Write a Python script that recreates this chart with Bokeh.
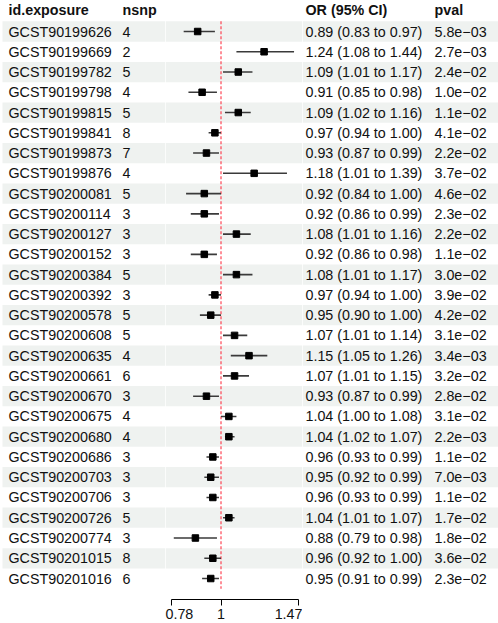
from bokeh.plotting import figure
from bokeh.layouts import row
from bokeh.models import Range1d, LogAxis, FixedTicker, CustomJSTickFormatter, ColumnDataSource
from bokeh.core.properties import value
from bokeh.embed import file_html
from bokeh.resources import INLINE

# ---- data ----
exposure = [
    "GCST90199626", "GCST90199669", "GCST90199782", "GCST90199798", "GCST90199815",
    "GCST90199841", "GCST90199873", "GCST90199876", "GCST90200081", "GCST90200114",
    "GCST90200127", "GCST90200152", "GCST90200384", "GCST90200392", "GCST90200578",
    "GCST90200608", "GCST90200635", "GCST90200661", "GCST90200670", "GCST90200675",
    "GCST90200680", "GCST90200686", "GCST90200703", "GCST90200706", "GCST90200726",
    "GCST90200774", "GCST90201015", "GCST90201016",
]
nsnp = [4, 2, 5, 4, 5, 8, 7, 4, 5, 3, 3, 3, 5, 3, 5, 5, 4, 6, 3, 4, 4, 3, 3, 3, 5, 3, 8, 6]
odds_ratio = [0.89, 1.24, 1.09, 0.91, 1.09, 0.97, 0.93, 1.18, 0.92, 0.92, 1.08, 0.92, 1.08, 0.97,
              0.95, 1.07, 1.15, 1.07, 0.93, 1.04, 1.04, 0.96, 0.95, 0.96, 1.04, 0.88, 0.96, 0.95]
ci_low = [0.83, 1.08, 1.01, 0.85, 1.02, 0.94, 0.87, 1.01, 0.84, 0.86, 1.01, 0.86, 1.01, 0.94,
          0.90, 1.01, 1.05, 1.01, 0.87, 1.00, 1.02, 0.93, 0.92, 0.93, 1.01, 0.79, 0.92, 0.91]
ci_high = [0.97, 1.44, 1.17, 0.98, 1.16, 1.00, 0.99, 1.39, 1.00, 0.99, 1.16, 0.98, 1.17, 1.00,
           1.00, 1.14, 1.26, 1.15, 0.99, 1.08, 1.07, 0.99, 0.99, 0.99, 1.07, 0.98, 1.00, 0.99]
pval = [5.8e-03, 2.7e-03, 2.4e-02, 1.0e-02, 1.1e-02, 4.1e-02, 2.2e-02, 3.7e-02, 4.6e-02, 2.3e-02,
        2.2e-02, 1.1e-02, 3.0e-02, 3.9e-02, 4.2e-02, 3.1e-02, 3.4e-03, 3.2e-02, 2.8e-02, 3.1e-02,
        2.2e-03, 1.1e-02, 7.0e-03, 1.1e-02, 1.7e-02, 1.8e-02, 3.6e-02, 2.3e-02]
headers = ["id.exposure", "nsnp", "OR (95% CI)", "pval"]
x_ticks = [0.78, 1, 1.47]
ref_value = 1

# ---- styling / geometry ----
FONT = value("Liberation Sans")
FSIZE = value("14.3px")
TEXT_COLOR = "#111111"
BAND = "#eff2f0"
ROW_PX = 20.26
TOP_PX = 31.0
FRAME_H = 599

n = len(exposure)
rows = list(range(n))
y_top = -TOP_PX / ROW_PX
y_bottom = (FRAME_H - TOP_PX) / ROW_PX
shaded = [i for i in rows if i % 2 == 0]

or_text = [f"{o:.2f} ({l:.2f} to {h:.2f})" for o, l, h in zip(odds_ratio, ci_low, ci_high)]
p_text = [f"{p:.1e}".replace("-", "\u2212") for p in pval]

src = ColumnDataSource(dict(
    y=rows, exposure=exposure, nsnp=[str(k) for k in nsnp],
    orv=odds_ratio, lo=ci_low, hi=ci_high, ortext=or_text, ptext=p_text,
))


def panel(width, x_range, axis_type="linear"):
    p = figure(frame_width=width, frame_height=FRAME_H, x_range=x_range,
               y_range=Range1d(y_bottom, y_top), x_axis_type=axis_type,
               x_axis_location=None, y_axis_location=None,
               toolbar_location=None, output_backend="svg",
               min_border_left=0, min_border_right=0, min_border_top=0, min_border_bottom=0)
    p.grid.visible = False
    p.outline_line_color = None
    p.background_fill_color = "white"
    p.border_fill_color = "white"
    return p


def add_text(p, x, field, header=None):
    p.text(x=x, y="y", text=field, source=src, text_font=FONT, text_font_size=FSIZE,
           text_color=TEXT_COLOR, text_baseline="middle", text_align="left")
    if header is not None:
        p.text(x=[x], y=[-1.05], text=[header], text_font=FONT, text_font_size=FSIZE,
               text_font_style="bold", text_color=TEXT_COLOR,
               text_baseline="middle", text_align="left")


# left table: exposure id and number of SNPs
left = panel(165, Range1d(0, 165))
left.hbar(y=shaded, height=1, left=2, right=165, color=BAND, line_color=None)
add_text(left, 8, "exposure", header=headers[0])
add_text(left, 122, "nsnp", header=headers[1])

# forest panel on a log scale
mid = panel(137, Range1d(0.758, 1.502), axis_type="log")
mid.hbar(y=shaded, height=1, left=0.1, right=10, color=BAND, line_color=None)
mid.segment(x0=ref_value, y0=-0.5, x1=ref_value, y1=n - 0.5,
            line_color="#ff3344", line_width=1.1, line_dash="3 2")
mid.segment(x0="lo", y0="y", x1="hi", y1="y", source=src, line_color="#3a3a3a", line_width=1.6)
mid.scatter(x="orv", y="y", source=src, marker="square", size=6.5, color="black")
xaxis = LogAxis(ticker=FixedTicker(ticks=x_ticks), bounds=(min(x_ticks), max(x_ticks)),
                formatter=CustomJSTickFormatter(code="return tick.toString();"))
xaxis.major_tick_in = 0
xaxis.major_tick_out = 6
xaxis.minor_tick_out = 0
xaxis.minor_tick_in = 0
xaxis.major_label_standoff = 3
xaxis.axis_line_color = "black"
xaxis.major_tick_line_color = "black"
xaxis.major_label_text_font = "Liberation Sans"
xaxis.major_label_text_font_size = "14.3px"
xaxis.major_label_text_color = TEXT_COLOR
mid.add_layout(xaxis, "below")

# right table: OR with CI and p-value
right = panel(196, Range1d(302, 498))
right.hbar(y=shaded, height=1, left=302, right=498, color=BAND, line_color=None)
add_text(right, 305, "ortext", header=headers[2])
add_text(right, 434, "ptext", header=headers[3])

layout = row(left, mid, right, spacing=0)
open("out.html", "w").write(file_html(layout, INLINE))
